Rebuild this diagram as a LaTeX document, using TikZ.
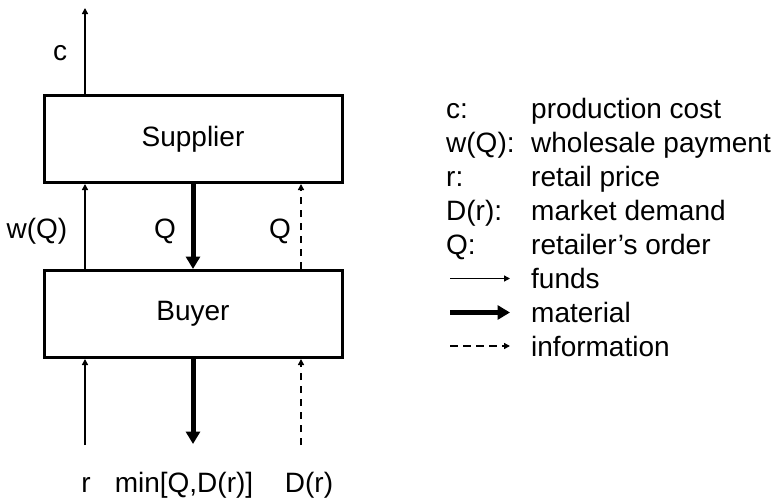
\documentclass[tikz,border=0pt]{standalone}
\usepackage{fontspec}
\setmainfont{Liberation Sans}
\usetikzlibrary{arrows.meta}
\tikzset{
  box/.style={draw, line width=3pt, minimum width=298pt, minimum height=87pt, inner sep=0pt, font=\fontsize{28}{33}\selectfont},
  lbl/.style={inner sep=0pt, font=\fontsize{28}{33}\selectfont, text height=20pt, text depth=0pt},
  funds/.style={line width=1.4pt, -{Triangle[length=6pt,width=6pt]}},
  material/.style={line width=5pt, -{Triangle[length=12.5pt,width=14pt]}},
  info/.style={line width=1.6pt, dash pattern=on 7.5pt off 5.5pt, -{Triangle[length=6pt,width=6pt]}},
}
\begin{document}
\begin{tikzpicture}[x=1pt,y=-1pt]
\useasboundingbox (0,0) rectangle (779,501);
\node[box] (sup) at (193,139) {Supplier};
\node[box] (buy) at (193,314) {Buyer};
\coordinate (xL) at (85,0);
\coordinate (xM) at (193,0);
\coordinate (xR) at (301,0);
\coordinate (ctop) at (85,8);
\coordinate (bL) at (85,445);
\coordinate (bM) at (193,444);
\coordinate (bR) at (301,445);
% arrows
\draw[funds] (sup.north -| ctop) -- (ctop);
\draw[funds] (buy.north -| xL) -- (sup.south -| xL);
\draw[material] (sup.south -| xM) -- (buy.north -| xM);
\draw[info] (buy.north -| xR) -- (sup.south -| xR);
\draw[funds] (bL) -- (buy.south -| xL);
\draw[material] (buy.south -| xM) -- (bM);
\draw[info] (bR) -- (buy.south -| xR);
% labels
\node[lbl] (lc) at (60,50) {c};
\node[lbl] (lw) at (37,228) {w(Q)};
\node[lbl] (lq1) at (165,228) {Q};
\node[lbl] (lq2) at (280,228) {Q};
\node[lbl] (lr) at (86,482) {r};
\node[lbl] (lmin) at (184,482) {min[Q,D(r)]};
\node[lbl] (ld) at (309,482) {D(r)};
% legend
\foreach \k/\d/\y [count=\i] in {c:/production cost/108, w(Q):/wholesale payment/142, r:/retail price/176, D(r):/market demand/210, Q:/retailer’s order/244}{
  \node[lbl, anchor=west] (k\i) at (446,\y) {\k};
  \node[lbl, anchor=west] (d\i) at (531,\y) {\d};
}
\coordinate (fa) at (450,278.5); \coordinate (fb) at (510,278.5);
\coordinate (ma) at (450,312.5); \coordinate (mb) at (510,312.5);
\coordinate (ia) at (450,346); \coordinate (ib) at (510,346);
\draw[funds] (fa) -- (fb);
\draw[material] (ma) -- (mb);
\draw[info] (ia) -- (ib);
\node[lbl, anchor=west] (df) at (531,278) {funds};
\node[lbl, anchor=west] (dm) at (531,312) {material};
\node[lbl, anchor=west] (di) at (531,346) {information};
\end{tikzpicture}
\end{document}
